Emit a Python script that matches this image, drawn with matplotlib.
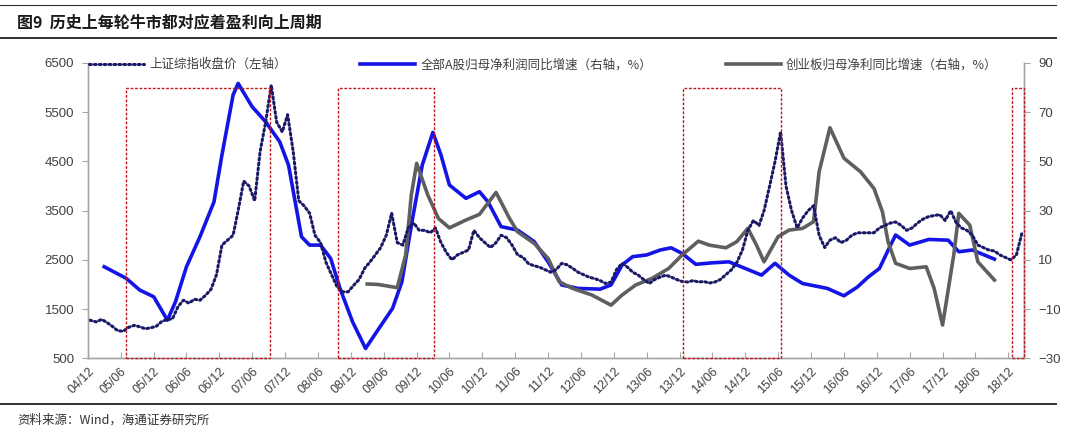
import matplotlib
matplotlib.use('Agg')
import matplotlib.pyplot as plt
import matplotlib.dates as mdates
from matplotlib.patches import Rectangle
from matplotlib.lines import Line2D
import pandas as pd

plt.rcParams['font.family'] = ['Liberation Sans', 'Noto Sans CJK SC']
cjk = ['Noto Sans CJK SC', 'DejaVu Sans']

# 上证综指收盘价, one value per month (mid-month), 2004/11 - 2019/02
index_close = [
    1300, 1270,
    1240, 1290, 1230, 1150, 1060, 1050, 1130, 1170, 1140, 1100, 1120, 1150,
    1250, 1290, 1300, 1550, 1680, 1620, 1700, 1680, 1780, 1900, 2200, 2800,
    2900, 3000, 3500, 4100, 4000, 3700, 4700, 5300, 6050, 5300, 5100, 5450,
    4700, 3700, 3600, 3450, 3000, 2850, 2450, 2200, 1950, 1850, 1850, 1980,
    2100, 2330, 2450, 2600, 2750, 3000, 3450, 2850, 2800, 3150, 3250, 3100,
    3100, 3050, 3150, 2850, 2650, 2500, 2600, 2650, 2700, 3100, 2950, 2850,
    2750, 2850, 3000, 2950, 2800, 2600, 2550, 2420, 2380, 2350, 2300, 2250,
    2300, 2430, 2400, 2330, 2250, 2200, 2150, 2120, 2080, 2020, 2050, 2300,
    2430, 2350, 2250, 2190, 2100, 2020, 2100, 2150, 2190, 2150, 2100, 2060,
    2050, 2080, 2050, 2060, 2030, 2050, 2100, 2200, 2300, 2450, 2700, 3100,
    3300, 3200, 3500, 4000, 4500, 5100, 4000, 3500, 3150, 3350, 3500, 3600,
    3000, 2750, 2900, 2950, 2850, 2900, 3000, 3050, 3050, 3050, 3050, 3150,
    3200, 3250, 3270, 3200, 3100, 3150, 3250, 3330, 3380, 3400, 3420, 3300,
    3500, 3250, 3150, 3100, 3000, 2800, 2750, 2700, 2680, 2600, 2550, 2500,
    2600, 3050,
]
index_dates = pd.date_range('2004-11-01', '2019-02-01', freq='MS') + pd.Timedelta(days=14)

# 全部A股归母净利润同比增速 (%)
a_dates = [
    '2005-03-01', '2005-07-01', '2005-09-15', '2005-12-01', '2006-02-15', '2006-04-01',
    '2006-06-01', '2006-08-15', '2006-11-01', '2006-12-15', '2007-02-15', '2007-03-15',
    '2007-06-01', '2007-08-15', '2007-11-01', '2007-12-20', '2008-03-01', '2008-04-15',
    '2008-06-15', '2008-08-10', '2008-10-01', '2008-12-10', '2009-02-20', '2009-05-05',
    '2009-07-20', '2009-09-10', '2009-11-05', '2010-01-01', '2010-03-01', '2010-04-15',
    '2010-06-01', '2010-09-01', '2010-11-15', '2011-01-01', '2011-03-15', '2011-06-15',
    '2011-09-15', '2011-12-01', '2012-02-15', '2012-05-15', '2012-09-15', '2012-11-15',
    '2013-01-15', '2013-03-15', '2013-06-01', '2013-08-15', '2013-10-15', '2013-12-15',
    '2014-03-01', '2014-06-01', '2014-09-01', '2014-12-01', '2015-03-01', '2015-05-15',
    '2015-08-01', '2015-10-15', '2016-03-01', '2016-06-01', '2016-08-15', '2016-10-15',
    '2016-12-15', '2017-02-15', '2017-03-15', '2017-06-01', '2017-09-15', '2018-01-01',
    '2018-03-01', '2018-05-15', '2018-09-15',
]
a_growth = [
    7.2, 2.5, -2.3, -5.0, -14.5, -7.0,
    7.2, 19.4, 33.6, 52.6, 77.0, 81.7,
    72.2, 66.1, 58.0, 48.5, 19.4, 16.0,
    16.0, 10.6, -1.6, -15.2, -26.0, -17.9,
    -9.7, 1.1, 25.5, 48.5, 61.8, 52.6,
    40.4, 35.0, 37.7, 33.6, 23.5, 22.1,
    17.4, 9.2, -0.2, -1.6, -1.9, -0.2,
    7.9, 11.3, 12.0, 14.0, 14.9, 12.6,
    8.2, 8.8, 9.2, 6.5, 3.8, 8.6,
    3.8, 0.4, -1.6, -4.6, -1.0, 3.1,
    6.5, 16.0, 20.1, 16.0, 18.3, 18.0,
    13.3, 14.0, 10.3,
]

# 创业板归母净利同比增速 (%)
gem_dates = [
    '2009-03-01', '2009-05-01', '2009-08-15', '2009-10-01', '2009-11-01', '2009-12-01',
    '2010-02-01', '2010-04-01', '2010-06-01', '2010-09-01', '2010-11-15', '2011-02-15',
    '2011-05-01', '2011-06-15', '2011-09-15', '2011-12-01', '2012-02-01', '2012-04-15',
    '2012-08-01', '2012-11-15', '2013-01-15', '2013-04-01', '2013-07-01', '2013-10-01',
    '2013-12-15', '2014-03-15', '2014-05-15', '2014-08-15', '2014-10-15', '2014-12-15',
    '2015-02-01', '2015-03-15', '2015-04-15', '2015-06-01', '2015-08-01', '2015-10-15',
    '2015-12-15', '2016-01-15', '2016-03-15', '2016-06-01', '2016-09-01', '2016-11-15',
    '2017-01-01', '2017-02-01', '2017-03-15', '2017-06-01', '2017-09-01', '2017-10-15',
    '2017-12-01', '2018-02-01', '2018-03-01', '2018-05-01', '2018-06-15', '2018-09-15',
]
gem_growth = [
    0.2, 0.0, -1.3, 12.0, 36.3, 49.2,
    36.3, 26.8, 23.0, 26.2, 28.5, 37.4,
    26.8, 21.4, 16.7, 10.6, 1.1, -1.6,
    -4.3, -8.4, -4.3, -0.2, 2.5, 6.5,
    12.0, 17.6, 16.0, 14.9, 17.4, 22.8,
    16.0, 9.2, 13.3, 19.4, 22.1, 22.8,
    25.5, 45.8, 63.7, 51.3, 45.8, 39.0,
    29.5, 17.4, 8.6, 6.5, 7.2, -1.6,
    -16.5, 12.0, 28.9, 24.1, 9.2, 1.8,
]

# 牛市区间 (red boxes)
bull_start = ['2005-07-01', '2008-09-22', '2013-12-18', '2018-12-24']
bull_end = ['2007-09-10', '2010-03-06', '2015-06-18', '2019-02-24']

left_ticks = [500, 1500, 2500, 3500, 4500, 5500, 6500]
right_ticks = [-30, -10, 10, 30, 50, 70, 90]
x_ticks = pd.date_range('2004-12-01', '2018-12-01', freq='6MS')

labels = ['上证综指收盘价（左轴）', '全部A股归母净利润同比增速（右轴，%）', '创业板归母净利同比增速（右轴，%）']
title = '图9  历史上每轮牛市都对应着盈利向上周期'
source = '资料来源：Wind，海通证券研究所'

spine_c = '#A6A6A6'
text_c = '#404040'

fig = plt.figure(figsize=(10.8, 4.32), dpi=100)
ax = fig.add_axes([0.0815, 0.1706, 0.8671, 0.6836])
ax2 = ax.twinx()

l1, = ax.plot(index_dates, index_close, color='#191966', lw=2.2,
              linestyle=(0, (0.6, 1.0)), dash_capstyle='round')
l2, = ax2.plot(pd.to_datetime(a_dates), a_growth, color='#1414E6', lw=2.6,
               solid_joinstyle='round')
l3, = ax2.plot(pd.to_datetime(gem_dates), gem_growth, color='#5F5F5F', lw=2.6,
               solid_joinstyle='round')

for s, e in zip(bull_start, bull_end):
    x0 = mdates.date2num(pd.Timestamp(s))
    x1 = mdates.date2num(pd.Timestamp(e))
    ax.add_patch(Rectangle((x0, 500), x1 - x0, 5500, fill=False, ec='#C0161E',
                           lw=1.0, ls=(0, (2, 1.2)), clip_on=False, zorder=5))

ax.set_xlim(pd.Timestamp('2004-12-01'), pd.Timestamp('2019-03-01'))
ax.set_ylim(500, 6500)
ax2.set_ylim(-30, 90)
ax.set_yticks(left_ticks)
ax2.set_yticks(right_ticks)
ax.set_xticks(x_ticks)
ax.xaxis.set_major_formatter(mdates.DateFormatter('%y/%m'))

for a in (ax, ax2):
    a.spines['top'].set_visible(False)
    for side in ('left', 'right', 'bottom'):
        a.spines[side].set_color(spine_c)
        a.spines[side].set_linewidth(1.0)

ax.tick_params(axis='x', direction='in', length=4, color=spine_c, labelsize=9,
               labelcolor=text_c, pad=5)
ax.tick_params(axis='y', direction='out', length=4, color=spine_c, labelsize=9.5,
               labelcolor=text_c, pad=6)
ax2.tick_params(axis='y', direction='out', length=4, color=spine_c, labelsize=9.5,
                labelcolor=text_c, pad=6)
for lab in ax.get_xticklabels():
    lab.set_rotation(45)
    lab.set_ha('right')
    lab.set_va('top')
    lab.set_rotation_mode('anchor')

leg = ax.legend([l1, l2, l3], labels, loc='lower left', ncol=3, mode='expand',
                bbox_to_anchor=(-0.004, 0.955, 0.98, 0.06), borderaxespad=0,
                frameon=False, handlelength=4.4, handletextpad=0.4,
                prop={'family': cjk, 'size': 9})
for t in leg.get_texts():
    t.set_color(text_c)
ax.set_zorder(ax2.get_zorder() + 1)
ax.patch.set_visible(False)

fig.text(0.016, 0.949, title, fontsize=11.5, fontweight='bold', va='center',
         family=cjk, color='#1a1a1a')
fig.text(0.016, 0.028, source, fontsize=9, va='center', family=cjk, color='#333333')
fig.add_artist(Line2D([0, 0.978], [0.988, 0.988], color='#333333', lw=0.8))
fig.add_artist(Line2D([0, 0.978], [0.912, 0.912], color='#333333', lw=1.4))
fig.add_artist(Line2D([0, 0.978], [0.064, 0.064], color='#333333', lw=1.4))

fig.savefig('out.png', dpi=100)
